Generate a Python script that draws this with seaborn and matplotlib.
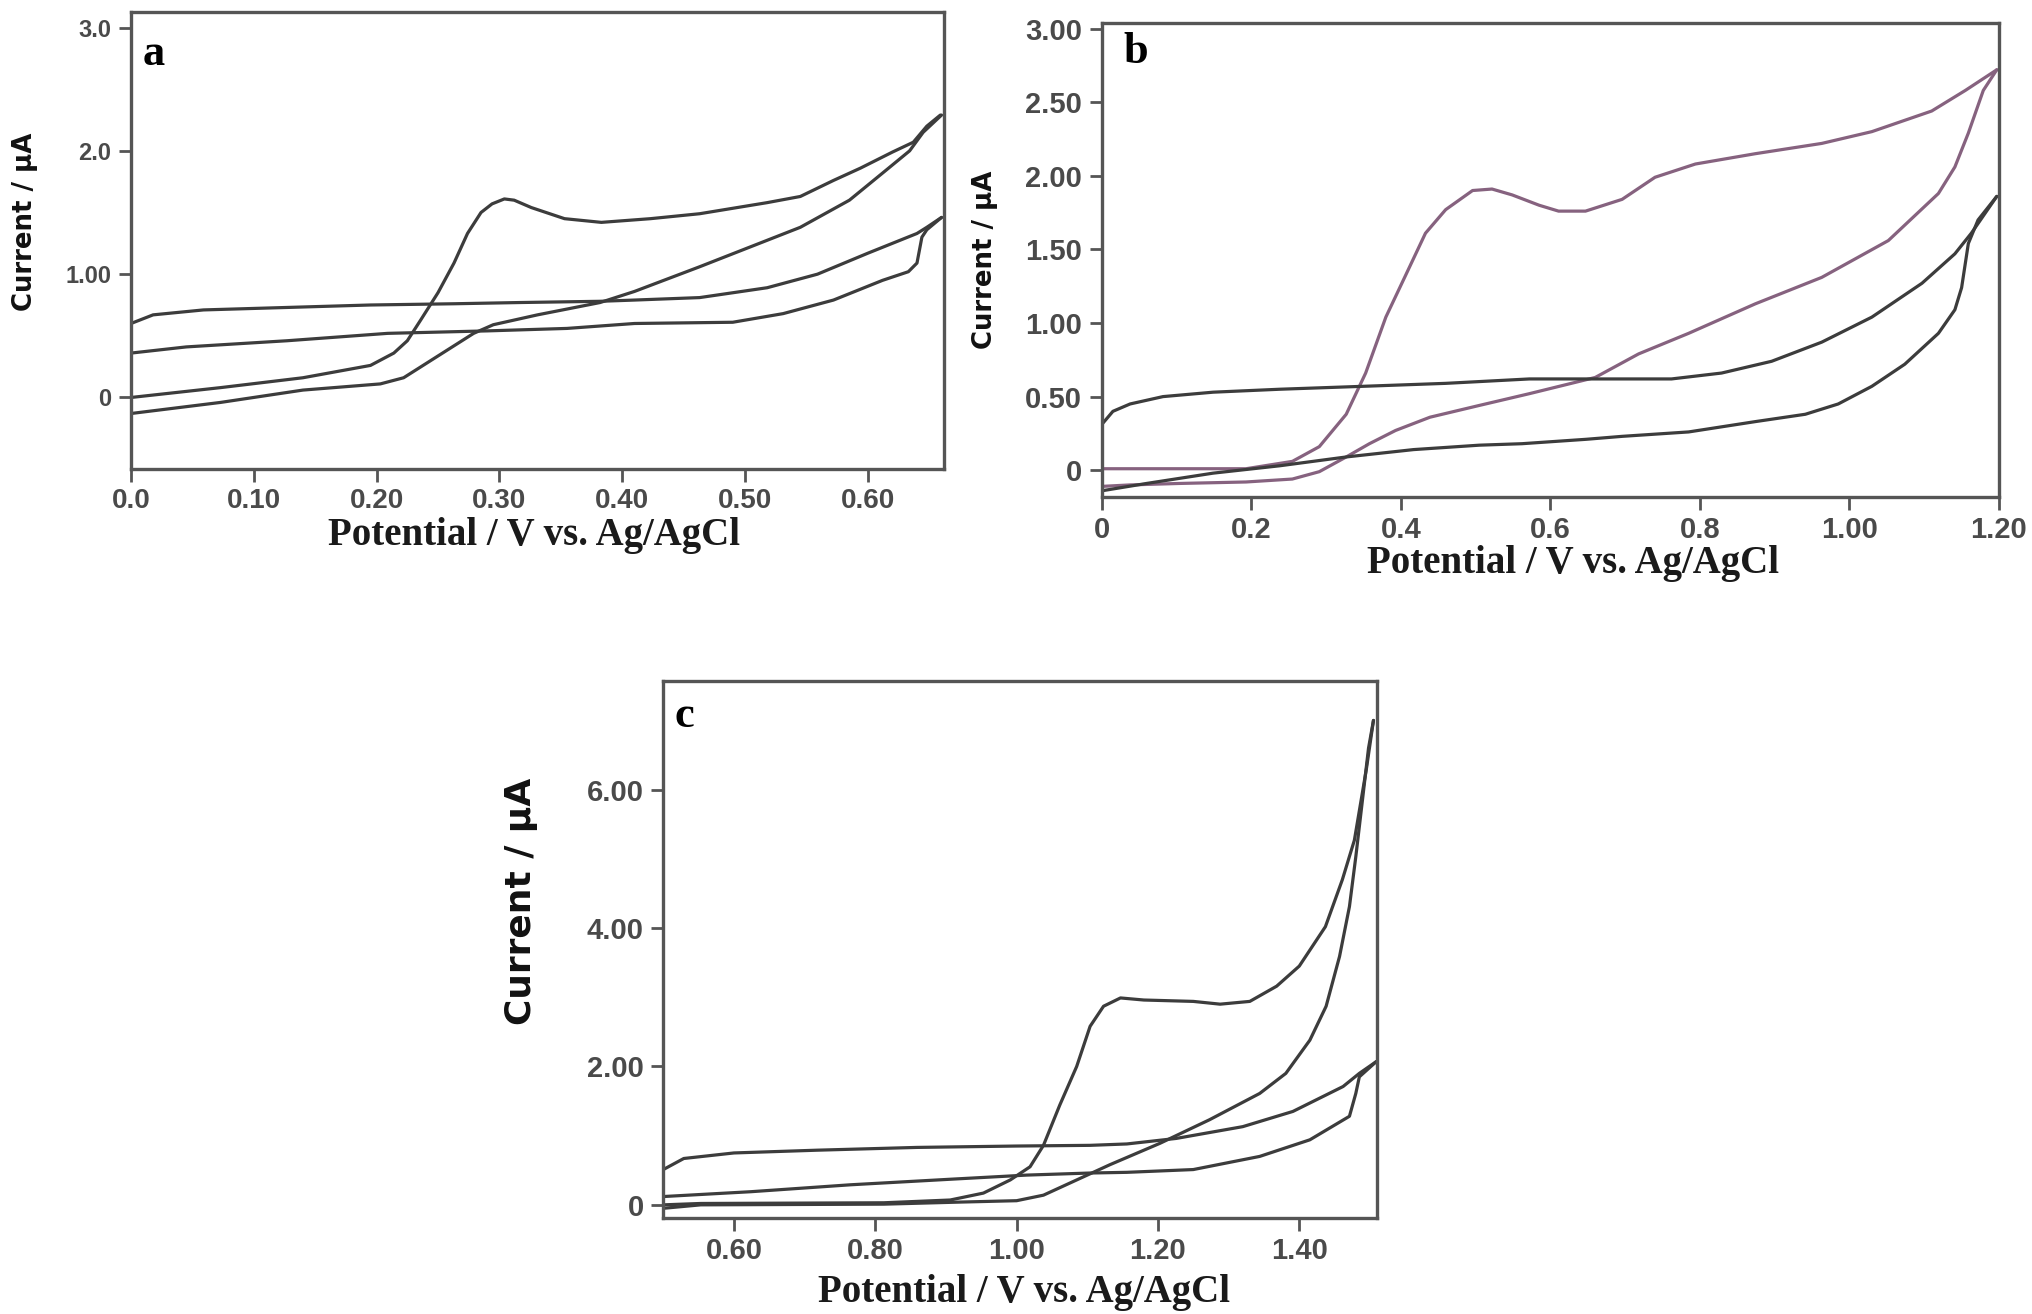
import matplotlib
matplotlib.use('Agg')
import matplotlib.pyplot as plt
from matplotlib import font_manager
import numpy as np
import pandas as pd
import seaborn as sns

# ---- panel a : potential (V) / current (uA) ----
a_peak_E = [0, 0.073, 0.14, 0.195, 0.214, 0.225, 0.236, 0.25, 0.263, 0.274, 0.285, 0.294,
            0.304, 0.312, 0.326, 0.353, 0.383, 0.423, 0.463, 0.518, 0.545, 0.572, 0.594,
            0.62, 0.637, 0.648, 0.659]
a_peak_I = [0.0, 0.08, 0.16, 0.26, 0.36, 0.46, 0.63, 0.85, 1.09, 1.33, 1.50, 1.57,
            1.61, 1.60, 1.54, 1.45, 1.42, 1.45, 1.49, 1.58, 1.63, 1.76, 1.86,
            1.99, 2.07, 2.20, 2.29]
a_steep_E = [0, 0.073, 0.14, 0.203, 0.222, 0.241, 0.26, 0.279, 0.295, 0.331, 0.382, 0.41,
             0.463, 0.504, 0.545, 0.585, 0.612, 0.634, 0.645, 0.66]
a_steep_I = [-0.13, -0.04, 0.06, 0.11, 0.16, 0.28, 0.40, 0.52, 0.59, 0.67, 0.77, 0.86,
             1.06, 1.22, 1.38, 1.60, 1.82, 2.00, 2.15, 2.29]
a_upper_E = [0, 0.018, 0.059, 0.127, 0.195, 0.263, 0.317, 0.382, 0.41, 0.463, 0.518, 0.559,
             0.60, 0.64, 0.648, 0.66]
a_upper_I = [0.60, 0.67, 0.71, 0.73, 0.75, 0.76, 0.77, 0.78, 0.79, 0.81, 0.89, 1.0,
             1.17, 1.33, 1.38, 1.46]
a_lower_E = [0, 0.045, 0.127, 0.209, 0.29, 0.355, 0.41, 0.49, 0.531, 0.572, 0.612, 0.633,
             0.64, 0.644, 0.648, 0.66]
a_lower_I = [0.36, 0.41, 0.46, 0.52, 0.54, 0.56, 0.60, 0.61, 0.68, 0.79, 0.95, 1.02,
             1.09, 1.30, 1.36, 1.46]

# ---- panel b ----
b_peak_E = [0, 0.1, 0.193, 0.255, 0.291, 0.327, 0.353, 0.38, 0.407, 0.433, 0.46, 0.496,
            0.522, 0.549, 0.585, 0.611, 0.647, 0.696, 0.74, 0.794, 0.874, 0.963, 1.03,
            1.11, 1.155, 1.197]
b_peak_I = [0.01, 0.01, 0.01, 0.06, 0.16, 0.38, 0.66, 1.04, 1.33, 1.61, 1.77, 1.90,
            1.91, 1.87, 1.80, 1.76, 1.76, 1.84, 1.99, 2.08, 2.15, 2.22, 2.30,
            2.44, 2.58, 2.72]
b_back_E = [1.197, 1.179, 1.159, 1.141, 1.119, 1.052, 0.963, 0.874, 0.785, 0.718, 0.66,
            0.572, 0.505, 0.439, 0.393, 0.358, 0.327, 0.291, 0.255, 0.193, 0.104, 0.038, 0]
b_back_I = [2.72, 2.58, 2.29, 2.06, 1.88, 1.56, 1.31, 1.13, 0.93, 0.79, 0.63,
            0.52, 0.44, 0.36, 0.27, 0.18, 0.09, -0.01, -0.06, -0.08, -0.09, -0.10, -0.11]
b_upper_E = [0, 0.015, 0.038, 0.082, 0.149, 0.238, 0.35, 0.46, 0.572, 0.651, 0.762, 0.829,
             0.896, 0.963, 1.03, 1.097, 1.141, 1.163, 1.197]
b_upper_I = [0.31, 0.40, 0.45, 0.50, 0.53, 0.55, 0.57, 0.59, 0.62, 0.62, 0.62, 0.66,
             0.74, 0.87, 1.04, 1.27, 1.47, 1.61, 1.86]
b_lower_E = [0, 0.06, 0.149, 0.238, 0.327, 0.417, 0.505, 0.562, 0.648, 0.696, 0.785, 0.874,
             0.941, 0.985, 1.03, 1.074, 1.119, 1.141, 1.15, 1.159, 1.172, 1.197]
b_lower_I = [-0.14, -0.09, -0.02, 0.03, 0.09, 0.14, 0.17, 0.18, 0.21, 0.23, 0.26, 0.33,
             0.38, 0.45, 0.57, 0.72, 0.93, 1.09, 1.24, 1.54, 1.70, 1.86]

# ---- panel c ----
c_upper_E = [0.5, 0.529, 0.6, 0.718, 0.859, 1.0, 1.104, 1.156, 1.226, 1.32, 1.391, 1.462,
             1.485, 1.509]
c_upper_I = [0.51, 0.67, 0.75, 0.79, 0.83, 0.85, 0.86, 0.88, 0.96, 1.13, 1.35, 1.71,
             1.90, 2.07]
c_lower_E = [0.5, 0.624, 0.765, 0.906, 1.014, 1.104, 1.156, 1.25, 1.344, 1.415, 1.471,
             1.48, 1.485, 1.509]
c_lower_I = [0.12, 0.19, 0.29, 0.37, 0.43, 0.46, 0.47, 0.51, 0.70, 0.94, 1.28,
             1.61, 1.85, 2.07]
c_peak_E = [0.5, 0.553, 0.812, 0.906, 0.953, 0.991, 1.019, 1.038, 1.061, 1.085, 1.104,
            1.123, 1.147, 1.18, 1.25, 1.288, 1.33, 1.368, 1.40, 1.437, 1.461, 1.478,
            1.495, 1.505]
c_peak_I = [0.0, 0.02, 0.03, 0.07, 0.17, 0.36, 0.55, 0.86, 1.44, 2.0, 2.58,
            2.87, 2.99, 2.96, 2.94, 2.90, 2.94, 3.16, 3.45, 4.02, 4.70, 5.27,
            6.30, 7.0]
c_steep_E = [0.5, 0.553, 0.812, 0.92, 1.0, 1.038, 1.085, 1.132, 1.203, 1.273, 1.344, 1.381,
             1.415, 1.438, 1.457, 1.471, 1.48, 1.49, 1.498, 1.505]
c_steep_I = [-0.05, 0.0, 0.01, 0.04, 0.06, 0.14, 0.36, 0.58, 0.89, 1.23, 1.61, 1.90,
             2.38, 2.87, 3.59, 4.31, 5.03, 5.9, 6.6, 7.0]

a_xticks = [0, 0.1, 0.2, 0.3, 0.4, 0.5, 0.6]
a_xlabels = ['0.0', '0.10', '0.20', '0.30', '0.40', '0.50', '0.60']
a_yticks = [0, 1, 2, 3]
a_ylabels = ['0', '1.00', '2.0', '3.0']
b_xticks = [0, 0.2, 0.4, 0.6, 0.8, 1.0, 1.2]
b_xlabels = ['0', '0.2', '0.4', '0.6', '0.8', '1.00', '1.20']
b_yticks = [0, 0.5, 1.0, 1.5, 2.0, 2.5, 3.0]
b_ylabels = ['0', '0.50', '1.00', '1.50', '2.00', '2.50', '3.00']
c_xticks = [0.6, 0.8, 1.0, 1.2, 1.4]
c_xlabels = ['0.60', '0.80', '1.00', '1.20', '1.40']
c_yticks = [0, 2, 4, 6]
c_ylabels = ['0', '2.00', '4.00', '6.00']

DARK = '#3c3c3c'
MAUVE = '#86627f'


def pick(name, fallback='DejaVu Sans'):
    try:
        font_manager.findfont(name, fallback_to_default=False)
        return name
    except ValueError:
        return fallback


def branches(pairs):
    frames = []
    for name, (E, I) in pairs.items():
        frames.append(pd.DataFrame({'E': E, 'I': I, 'branch': name}))
    return pd.concat(frames, ignore_index=True)


sns.set_theme(style='white')
narrow = pick('Liberation Sans Narrow')
sans = pick('Liberation Sans')
serif = pick('Liberation Serif', 'DejaVu Serif')
shrink = 1.0 if narrow == 'Liberation Sans Narrow' else 0.72
plt.rcParams['font.family'] = [sans, 'DejaVu Sans']

W, H = 2032, 1314
fig = plt.figure(figsize=(W / 100, H / 100), dpi=100)


def rect(l, r, t, b):
    return [l / W, 1 - b / H, (r - l) / W, (b - t) / H]


panels = [
    dict(rect=rect(131, 944, 11.5, 469), xlim=(0, 0.662), ylim=(-0.58, 3.13),
         data=branches({'peak': (a_peak_E, a_peak_I), 'steep': (a_steep_E, a_steep_I),
                        'upper': (a_upper_E, a_upper_I), 'lower': (a_lower_E, a_lower_I)}),
         colors={'peak': DARK, 'steep': DARK, 'upper': DARK, 'lower': DARK},
         xt=(a_xticks, a_xlabels), yt=(a_yticks, a_ylabels), tsize=(20, 17),
         letter='a', lpos=(0.028, 0.907), ylab=(-0.13, 0.54), ysize=26, xlab=(0.496, -0.146)),
    dict(rect=rect(1101.7, 1999, 22.7, 496.7), xlim=(0, 1.2), ylim=(-0.18, 3.04),
         data=branches({'peak': (b_peak_E, b_peak_I), 'back': (b_back_E, b_back_I),
                        'upper': (b_upper_E, b_upper_I), 'lower': (b_lower_E, b_lower_I)}),
         colors={'peak': MAUVE, 'back': MAUVE, 'upper': DARK, 'lower': DARK},
         xt=(b_xticks, b_xlabels), yt=(b_yticks, b_ylabels), tsize=(21, 21),
         letter='b', lpos=(0.038, 0.939), ylab=(-0.13, 0.50), ysize=26, xlab=(0.525, -0.14)),
    dict(rect=rect(663.3, 1377, 681, 1218), xlim=(0.5, 1.51), ylim=(-0.19, 7.57),
         data=branches({'peak': (c_peak_E, c_peak_I), 'steep': (c_steep_E, c_steep_I),
                        'upper': (c_upper_E, c_upper_I), 'lower': (c_lower_E, c_lower_I)}),
         colors={'peak': DARK, 'steep': DARK, 'upper': DARK, 'lower': DARK},
         xt=(c_xticks, c_xlabels), yt=(c_yticks, c_ylabels), tsize=(21, 21),
         letter='c', lpos=(0.030, 0.934), ylab=(-0.20, 0.59), ysize=36, xlab=(0.505, -0.138)),
]

for p in panels:
    ax = fig.add_axes(p['rect'])
    sns.lineplot(data=p['data'], x='E', y='I', hue='branch', units='branch',
                 estimator=None, sort=False, palette=p['colors'], legend=False,
                 linewidth=2.3, ax=ax)
    ax.set_xlim(*p['xlim'])
    ax.set_ylim(*p['ylim'])
    ax.set_xticks(p['xt'][0], p['xt'][1])
    ax.set_yticks(p['yt'][0], p['yt'][1])
    ax.tick_params(axis='both', direction='out', length=9, width=2, color='#555555',
                   labelcolor='#4a4a4a', pad=5, left=True, bottom=True)
    for lab in ax.get_xticklabels():
        lab.set_fontsize(p['tsize'][0])
        lab.set_fontweight('bold')
    for lab in ax.get_yticklabels():
        lab.set_fontsize(p['tsize'][1])
        lab.set_fontweight('bold')
    for sp in ax.spines.values():
        sp.set_color('#555555')
        sp.set_linewidth(2.4)

    ax.set_xlabel('Potential / V vs. Ag/AgCl', family=serif, fontweight='bold',
                  fontsize=28, color='#1a1a1a', va='center')
    ax.xaxis.set_label_coords(*p['xlab'])
    ax.set_ylabel('Current / \u03bcA', family=[narrow, 'DejaVu Sans'], fontweight='bold',
                  fontsize=p['ysize'] * shrink, color='#111111', va='center')
    ax.yaxis.set_label_coords(*p['ylab'])
    ax.text(*p['lpos'], p['letter'], transform=ax.transAxes, family=serif,
            fontweight='bold', fontsize=32, ha='center', va='center', color='black')

fig.savefig('out.png', dpi=100)
